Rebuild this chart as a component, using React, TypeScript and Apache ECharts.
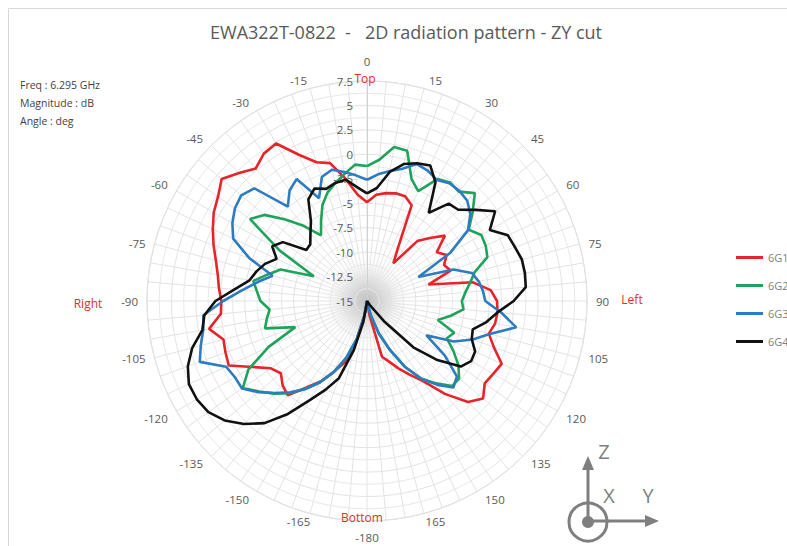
import { useEffect, useRef } from 'react';
import * as echarts from 'echarts';

// Angles in degrees, clockwise from the top (values > 180 are the negative side)
const angles = [
  0, 5, 10, 15, 20, 25, 30, 35, 40, 45, 50, 55, 60, 65, 70, 75, 80, 85,
  90, 95, 100, 105, 110, 115, 120, 125, 130, 135, 140, 145, 150, 155, 160, 165, 170, 175,
  180, 185, 190, 195, 200, 205, 210, 215, 220, 225, 230, 235, 240, 245, 250, 255, 260, 265,
  270, 275, 280, 285, 290, 295, 300, 305, 310, 315, 320, 325, 330, 335, 340, 345, 350, 355,
];

const seriesNames = ['6G1', '6G2', '6G3', '6G4'];

const g1 = [
  -4.9, -4.1, -3.8, -3.6, -3.6, -4.2, -8.6, -10.3, -7.0, -5.9,
  -4.6, -6.3, -5.6, -6.3, -5.9, -8.5, -4.0, -2.3, -1.7, -1.6,
  -1.7, -2.1, -1.2, 0.2, -0.1, -0.3, 0.5, -0.4, -2.6, -5.0,
  -6.3, -7.4, -8.4, -9.1, -13.5, -15,
  -15, -15, -13.5, -11, -8.3, -7.0, -5.5, -4.2, -2.4, -2.8,
  -3.5, -3.0, -1.5, 0.6, 0.4, 0.2, 1.4, 0.0, -0.1, 0.2,
  0.5, 1.0, 1.7, 2.4, 3.1, 3.6, 4.4, 3.5, 2.7, 3.4,
  3.6, 1.5, 0.1, -0.4, -2.3, -4.1,
];

const g2 = [
  -1.2, -0.5, 1.0, 0.9, -1.7, -2.6, -0.6, -0.2, -0.4, 0.6,
  -0.9, -2.3, -1.5, -1.6, -1.9, -3.6, -4.3, -4.9, -5.3, -5.1,
  -6.3, -7.5, -5.5, -6.0, -4.8, -3.6, -2.7, -2.7, -4.0, -5.3,
  -7.2, -9.5, -11.5, -13.5, -14.7, -15,
  -15, -15, -13.5, -11, -8.8, -7.0, -5.4, -4.0, -2.7, -1.6,
  -0.6, 0.5, -1.0, -3.9, -7.2, -4.2, -4.6, -5.0, -4.1, -3.7,
  -3.2, -4.5, -5.6, -9.0, -4.7, -0.4, -1.3, -3.2, -5.0, -6.8,
  -5.6, -4.2, -3.2, -2.5, -1.8, -1.0,
];

const g3 = [
  -2.6, -2.0, -1.5, -1.0, -0.1, -0.3, -0.7, -0.3, -0.3, -0.5,
  -1.2, -2.4, -5.2, -9.2, -5.6, -3.9, -3.4, -3.1, -2.9, -1.2,
  0.5, -2.0, -3.5, -5.2, -8.0, -5.3, -3.0, -2.5, -3.8, -5.3,
  -7.2, -9.5, -11.5, -13.5, -14.7, -15,
  -15, -15, -13.5, -11, -8.8, -7.0, -5.4, -4.0, -2.8, -1.7,
  -0.5, 0.6, 0.6, 0.9, 3.2, 2.6, 2.0, 1.8, -0.3, -2.2,
  -3.7, -5.0, -2.2, 0.1, 0.9, 1.5, 1.8, 1.3, -2.4, -1.2,
  -0.6, -3.4, -1.5, -1.1, -1.6, -2.1,
];

const g4 = [
  -4.0, -3.4, -1.6, -0.5, 0.0, 0.3, -1.0, -4.0, -2.0, -1.8,
  -0.5, 1.0, -0.5, 0.9, 1.1, 1.4, 1.4, 1.3, 0.0, -1.6,
  -2.6, -3.8, -3.6, -2.8, -2.7, -3.3, -5.6, -8.3, -12.3, -14.5,
  -15, -15, -15, -15, -15, -15,
  -15, -14.8, -12.8, -9.8, -6.6, -5.0, -3.3, -0.9, 1.3, 2.8,
  4.0, 4.8, 5.1, 5.1, 4.5, 3.5, 2.1, 1.7, 0.5, -1.4,
  -2.8, -3.3, -3.9, -4.8, -3.8, -4.5, -6.9, -6.8, -6.0, -5.0,
  -3.0, -2.3, -2.8, -2.5, -2.4, -3.3,
];

const seriesValues = [g1, g2, g3, g4];
const seriesColors = ['#e8232a', '#1ea35b', '#2e7cc0', '#111111'];

const radiusMin = -15;
const radiusMax = 7.5;
const radiusStep = 2.5;

const infoLines = ['Freq : 6.295 GHz', 'Magnitude : dB', 'Angle : deg'];

const FONT = 'Open Sans';

function closedLoop(values: number[]) {
  const pts = values.map((v, i) => [v, angles[i]]);
  pts.push([values[0], 360]);
  return pts;
}

export default function App() {
  const ref = useRef<HTMLDivElement>(null);

  useEffect(() => {
    if (!ref.current) return;
    const chart = echarts.init(ref.current, null, { renderer: 'svg' });
    const grey = '#7f7f7f';
    const red = '#e52b2b';
    const lab = { color: '#595959', fontSize: 11.5, fontFamily: FONT };

    const option: any = {
      animation: false,
      backgroundColor: '#ffffff',
      textStyle: { fontFamily: FONT },
      title: {
        text: 'EWA322T-0822  -   2D radiation pattern - ZY cut',
        left: 406,
        top: 23,
        padding: 0,
        textAlign: 'center',
        textStyle: { color: '#595959', fontSize: 18, fontWeight: 'normal', fontFamily: FONT },
      },
      legend: {
        data: seriesNames,
        orient: 'vertical',
        left: 731,
        top: 247,
        itemWidth: 27,
        itemHeight: 3,
        itemGap: 17,
        icon: 'rect',
        textStyle: { color: '#808080', fontSize: 11, fontFamily: FONT },
      },
      polar: { center: [367, 301], radius: 220 },
      angleAxis: {
        type: 'value',
        min: 0,
        max: 360,
        interval: 15,
        startAngle: 90,
        clockwise: true,
        z: 0,
        axisLine: { show: true, lineStyle: { color: '#d9d9d9', width: 1 } },
        axisTick: { show: false },
        minorTick: { show: false, splitNumber: 3 },
        splitLine: { show: true, lineStyle: { color: '#e3e3e3', width: 1 } },
        minorSplitLine: { show: true, lineStyle: { color: '#e3e3e3', width: 1 } },
        axisLabel: {
          ...lab,
          margin: 2,
          formatter: (v: number) => {
            if (v >= 360) return '';
            const s = String(v >= 180 ? v - 360 : v);
            if (v === 0) return `{top|${s}}`;
            if (v === 180) return `{bot|${s}}`;
            if (v === 15 || v === 165) return `{rc|${s}}`;
            if (v === 195 || v === 345) return `{lc|${s}}`;
            if (v < 180) return `{r|${s}}`;
            return `{l|${s}}`;
          },
          rich: {
            top: { ...lab, padding: [0, 0, 12, 0] },
            bot: { ...lab, padding: [8, 0, 0, 0] },
            rc: { ...lab, padding: [0, 0, 0, 22] },
            lc: { ...lab, padding: [0, 22, 0, 0] },
            r: { ...lab, padding: [0, 0, 0, 7] },
            l: { ...lab, padding: [0, 7, 0, 0] },
          },
        },
      },
      radiusAxis: {
        type: 'value',
        min: radiusMin,
        max: radiusMax,
        interval: radiusStep,
        z: 2,
        axisLine: { show: true, lineStyle: { color: '#d0d0d0', width: 1 } },
        axisTick: { show: false },
        minorTick: { show: false, splitNumber: 2 },
        splitLine: { show: true, lineStyle: { color: '#e3e3e3', width: 1 } },
        minorSplitLine: { show: true, lineStyle: { color: '#e8e8e8', width: 1 } },
        axisLabel: { ...lab, margin: 14 },
      },
      series: seriesNames.map((name, i) => ({
        name,
        type: 'line',
        coordinateSystem: 'polar',
        data: closedLoop(seriesValues[i]),
        symbol: 'none',
        z: 3,
        clip: false,
        color: seriesColors[i],
        lineStyle: { color: seriesColors[i], width: 2.6 },
      })),
      graphic: [
        {
          type: 'rect',
          z: -10,
          silent: true,
          shape: { x: 8.5, y: 8.5, width: 800, height: 560 },
          style: { fill: 'none', stroke: '#d9d9d9', lineWidth: 1 },
        },
        {
          type: 'circle',
          z: 1,
          silent: true,
          shape: { cx: 367, cy: 301, r: 50 },
          style: {
            fill: new echarts.graphic.RadialGradient(0.5, 0.5, 0.5, [
              { offset: 0, color: 'rgba(190,190,190,0.95)' },
              { offset: 0.45, color: 'rgba(222,222,222,0.75)' },
              { offset: 1, color: 'rgba(255,255,255,0)' },
            ]),
          },
        },
        ...infoLines.map((t, i) => ({
          type: 'text',
          z: 5,
          x: 20,
          y: 85 + i * 18,
          style: {
            text: t,
            fill: '#3f3f3f',
            font: `10.5px "${FONT}"`,
            align: 'left',
            verticalAlign: 'middle',
          },
        })),
        { type: 'text', z: 5, x: 365, y: 78, style: { text: 'Top', fill: red, font: `12px "${FONT}"`, align: 'center', verticalAlign: 'middle' } },
        { type: 'text', z: 5, x: 362, y: 517, style: { text: 'Bottom', fill: red, font: `12px "${FONT}"`, align: 'center', verticalAlign: 'middle' } },
        { type: 'text', z: 5, x: 632, y: 299, style: { text: 'Left', fill: red, font: `12px "${FONT}"`, align: 'center', verticalAlign: 'middle' } },
        { type: 'text', z: 5, x: 88, y: 303, style: { text: 'Right', fill: red, font: `12px "${FONT}"`, align: 'center', verticalAlign: 'middle' } },
        // axis icon
        { type: 'circle', z: 5, shape: { cx: 588, cy: 522, r: 19 }, style: { fill: 'none', stroke: grey, lineWidth: 3 } },
        { type: 'circle', z: 5, shape: { cx: 588, cy: 522, r: 6 }, style: { fill: grey } },
        { type: 'line', z: 5, shape: { x1: 588, y1: 522, x2: 588, y2: 467 }, style: { stroke: grey, lineWidth: 3 } },
        { type: 'polygon', z: 5, shape: { points: [[582, 470], [594, 470], [588, 456]] }, style: { fill: grey } },
        { type: 'line', z: 5, shape: { x1: 588, y1: 521, x2: 648, y2: 521 }, style: { stroke: grey, lineWidth: 3 } },
        { type: 'polygon', z: 5, shape: { points: [[645, 515], [645, 527], [659, 521]] }, style: { fill: grey } },
        { type: 'text', z: 5, x: 604, y: 451, style: { text: 'Z', fill: grey, font: `20px "${FONT}"`, align: 'center', verticalAlign: 'middle' } },
        { type: 'text', z: 5, x: 609, y: 495, style: { text: 'X', fill: grey, font: `20px "${FONT}"`, align: 'center', verticalAlign: 'middle' } },
        { type: 'text', z: 5, x: 648, y: 495, style: { text: 'Y', fill: grey, font: `20px "${FONT}"`, align: 'center', verticalAlign: 'middle' } },
      ],
    };

    chart.setOption(option);
    return () => chart.dispose();
  }, []);

  return (
    <div
      ref={ref}
      style={{ position: 'fixed', left: 0, top: 0, width: 787, height: 546, background: '#fff' }}
    />
  );
}
